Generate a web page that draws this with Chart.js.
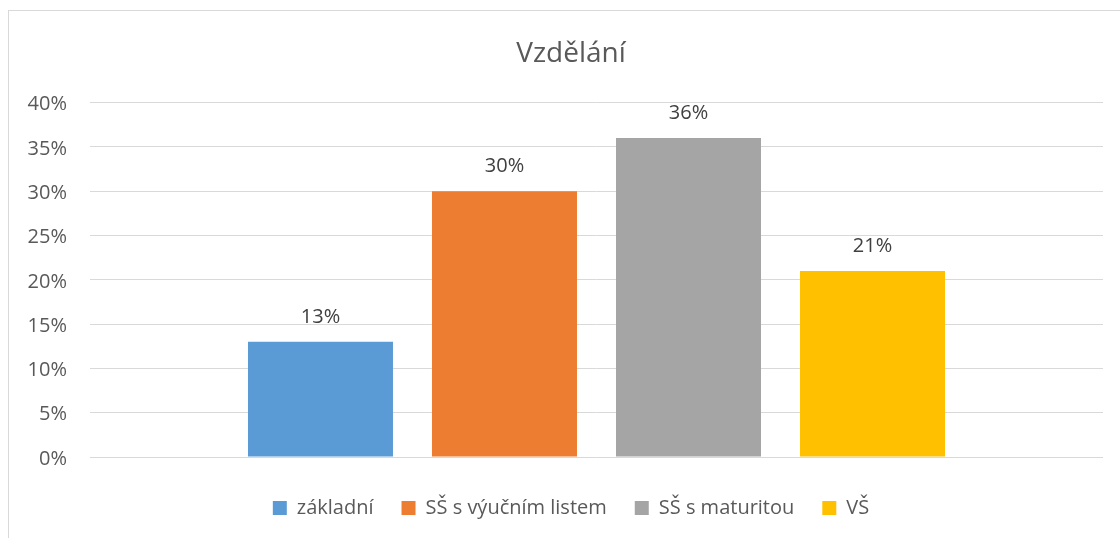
<!DOCTYPE html>
<html>
<head>
<meta charset="utf-8">
<script src="https://cdn.jsdelivr.net/npm/chart.js@4.4.1/dist/chart.umd.min.js"></script>
<style>
  html, body { margin: 0; padding: 0; background: #fff; }
  #wrap { position: relative; width: 1120px; height: 538px; }
</style>
</head>
<body>
<div id="wrap"><canvas id="myChart" width="1120" height="538"></canvas></div>
<script>
// data
var title = 'Vzdělání';
var categories = [''];
var seriesNames = ['základní', 'SŠ s výučním listem', 'SŠ s maturitou', 'VŠ'];
var seriesValues = [13, 30, 36, 21];
var seriesColors = ['#5B9BD5', '#ED7D31', '#A5A5A5', '#FFC000'];
var yTicks = [0, 5, 10, 15, 20, 25, 30, 35, 40];

var textColor = '#595959';
var gridColor = '#D9D9D9';
var fontName = '"Open Sans", "Liberation Sans", sans-serif';

var datasets = [];
for (var i = 0; i < seriesNames.length; i++) {
    datasets.push({
        label: seriesNames[i],
        data: [seriesValues[i]],
        backgroundColor: seriesColors[i],
        borderWidth: 0,
        categoryPercentage: 0.7266,
        barPercentage: 0.788
    });
}

// frame around the whole chart, like the excel chart border
var frame = {
    id: 'frame',
    beforeDraw: function (chart) {
        var c = chart.ctx;
        c.save();
        c.fillStyle = '#fff';
        c.fillRect(0, 0, chart.width, chart.height);
        c.strokeStyle = gridColor;
        c.lineWidth = 1;
        c.strokeRect(8.5, 10.5, 1300, 700);
        c.restore();
    }
};

// value labels above bars
var valueLabels = {
    id: 'valueLabels',
    afterDatasetsDraw: function (chart) {
        var c = chart.ctx;
        c.save();
        c.font = '20px ' + fontName;
        c.fillStyle = '#404040';
        c.textAlign = 'center';
        c.textBaseline = 'middle';
        chart.data.datasets.forEach(function (ds, di) {
            var meta = chart.getDatasetMeta(di);
            meta.data.forEach(function (bar, j) {
                c.fillText(ds.data[j] + '%', bar.x, bar.y - 25);
            });
        });
        c.restore();
    }
};

const ctx = document.getElementById('myChart');
var chart = new Chart(ctx, {
    type: 'bar',
    data: {
        labels: categories,
        datasets: datasets
    },
    options: {
        responsive: false,
        animation: false,
        layout: {
            padding: { left: 39, right: 17, top: 0, bottom: 10 }
        },
        plugins: {
            title: {
                display: true,
                text: title,
                color: textColor,
                font: { family: fontName, size: 28, weight: 'normal' },
                padding: { top: 37, bottom: 32 }
            },
            legend: {
                position: 'bottom',
                labels: {
                    color: textColor,
                    font: { family: fontName, size: 20 },
                    boxWidth: 14,
                    boxHeight: 14,
                    padding: 28
                }
            },
            tooltip: { enabled: false }
        },
        scales: {
            x: {
                ticks: { display: false },
                grid: { display: false },
                border: { display: false },
                afterFit: function (scale) { scale.height = 13; }
            },
            y: {
                min: 0,
                max: 40,
                afterBuildTicks: function (scale) {
                    scale.ticks = yTicks.map(function (v) { return { value: v }; });
                },
                ticks: {
                    color: textColor,
                    font: { family: fontName, size: 20 },
                    padding: 23,
                    labelOffset: 2,
                    callback: function (v) { return v + '%'; }
                },
                grid: { color: gridColor, lineWidth: 1, drawTicks: false },
                border: { display: false },
                afterFit: function (scale) { scale.width = 51; },
                // labels stick out left of the narrow axis box, so do not clip them
                afterUpdate: function (scale) { scale._computeLabelArea = function () {}; }
            }
        }
    },
    plugins: [frame, valueLabels]
});
</script>
</body>
</html>
